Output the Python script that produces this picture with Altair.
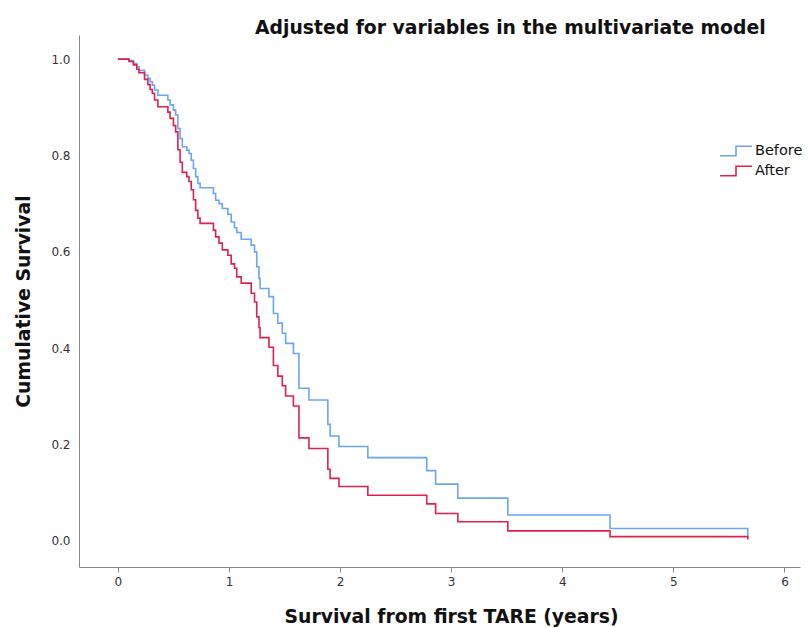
import altair as alt
import pandas as pd

times = [0, 0.10, 0.14, 0.17, 0.19, 0.24, 0.27, 0.29, 0.31, 0.33, 0.36, 0.45, 0.47, 0.50,
         0.52, 0.54, 0.56, 0.58, 0.62, 0.64, 0.66, 0.68, 0.70, 0.72, 0.74, 0.86, 0.88, 0.91,
         0.94, 0.99, 1.02, 1.05, 1.07, 1.11, 1.20, 1.23, 1.25, 1.27, 1.28, 1.36, 1.40, 1.44,
         1.48, 1.51, 1.58, 1.63, 1.72, 1.89, 1.91, 1.99, 2.25, 2.78, 2.86, 3.06, 3.51, 4.43, 5.67]

before = [1.000, 0.997, 0.991, 0.984, 0.977, 0.967, 0.960, 0.953, 0.946, 0.936, 0.925, 0.915,
          0.905, 0.894, 0.884, 0.856, 0.835, 0.818, 0.811, 0.804, 0.790, 0.773, 0.756, 0.742,
          0.733, 0.721, 0.707, 0.700, 0.690, 0.678, 0.662, 0.650, 0.640, 0.626, 0.614, 0.600,
          0.569, 0.545, 0.524, 0.507, 0.472, 0.452, 0.431, 0.410, 0.389, 0.317, 0.2925, 0.242,
          0.218, 0.196, 0.173, 0.146, 0.118, 0.089, 0.054, 0.026, 0.009]

after = [1.000, 0.995, 0.988, 0.979, 0.972, 0.958, 0.947, 0.937, 0.929, 0.915, 0.901, 0.890,
         0.877, 0.862, 0.849, 0.812, 0.786, 0.765, 0.756, 0.746, 0.729, 0.708, 0.686, 0.670,
         0.659, 0.645, 0.631, 0.618, 0.604, 0.593, 0.575, 0.566, 0.548, 0.535, 0.514, 0.496,
         0.465, 0.443, 0.422, 0.402, 0.364, 0.342, 0.322, 0.301, 0.280, 0.214, 0.192, 0.149,
         0.130, 0.113, 0.095, 0.077, 0.057, 0.040, 0.021, 0.009, 0.003]

groups = ["Before", "After"]
colors = ["#6aa6f2", "#e0214f"]
x_ticks = [0, 1, 2, 3, 4, 5, 6]
y_ticks = [0.0, 0.2, 0.4, 0.6, 0.8, 1.0]

rows = []
for g, series in zip(groups, [before, after]):
    for i, (t, s) in enumerate(zip(times, series)):
        rows.append({"time": t, "surv": s, "group": g, "ord": i})
df = pd.DataFrame(rows)

step_path = "M-2,0.6H0V-0.6H2"

chart = alt.Chart(df).mark_line(interpolate="step-after", strokeWidth=1.6).encode(
    x=alt.X("time:Q",
            scale=alt.Scale(domain=[-0.35, 6.14], nice=False, zero=False),
            axis=alt.Axis(values=x_ticks, format="d", title="Survival from first TARE (years)",
                          grid=False, tickSize=5, labelPadding=4, titlePadding=20,
                          titleX=372, titleAlign="center")),
    y=alt.Y("surv:Q",
            scale=alt.Scale(domain=[-0.054, 1.05], nice=False, zero=False),
            axis=alt.Axis(values=y_ticks, format=".1f", title="Cumulative Survival",
                          grid=False, ticks=False, labelPadding=9, titlePadding=17)),
    color=alt.Color("group:N",
                    scale=alt.Scale(domain=groups, range=colors),
                    legend=alt.Legend(title=None, orient="none", legendX=648, legendY=107,
                                      symbolType=step_path, symbolSize=256,
                                      symbolStrokeWidth=1.6, labelFontSize=14.5,
                                      labelFont="DejaVu Sans", labelColor="#111",
                                      labelOffset=10, rowPadding=3, padding=0)),
    order=alt.Order("ord:Q"),
).properties(
    width=721,
    height=532,
    autosize=alt.AutoSizeParams(type="none"),
    padding={"left": 71, "top": 27, "right": 3, "bottom": 60},
    title=alt.TitleParams("Adjusted for variables in the multivariate model",
                          anchor="start", frame="group", dx=176, offset=-3,
                          fontSize=18.8, font="DejaVu Sans", fontWeight="bold", color="#111"),
).configure_view(
    stroke=None
).configure_axis(
    domainColor="#888",
    domainWidth=1,
    tickColor="#888",
    labelFont="DejaVu Sans",
    labelFontSize=12,
    labelColor="#333",
    titleFont="DejaVu Sans",
    titleFontSize=18.8,
    titleFontWeight="bold",
    titleColor="#111",
)

chart.save("out.html", embed_options={"renderer": "svg", "actions": False})
